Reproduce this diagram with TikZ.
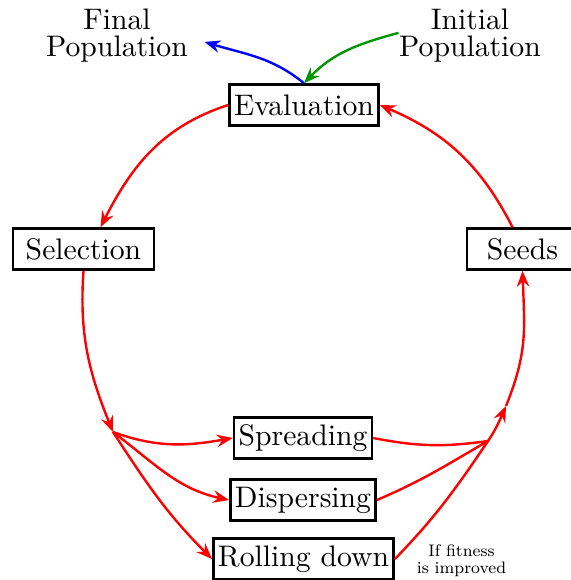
\documentclass[tikz,border=0pt]{standalone}
\usepackage{fontspec}
\setmainfont{lmroman10-regular.otf}
\newfontfamily\notefont{lmroman8-regular.otf}
\usetikzlibrary{arrows.meta}
\newcommand\mainsize{\fontsize{29.7}{27}\selectfont}
\newcommand\notesize{\notefont\fontsize{16.7}{16.5}\selectfont}
\definecolor{startgreen}{RGB}{0,150,0}
\begin{document}
\begin{tikzpicture}[x=1pt,y=1pt,
  box/.style={draw, line width=2.6pt, inner sep=4.5pt, minimum height=41pt, font=\mainsize},
  caption/.style={inner sep=0pt, align=center, font=\mainsize, anchor=north},
  note/.style={inner sep=0pt, align=center, font=\notesize, anchor=north},
  tip/.style={-{Stealth[length=16pt,width=12.5pt,inset=5.5pt]}},
  flow/.style={red, line width=2.4pt, tip},
  feed/.style={red, line width=2.4pt},
  outflow/.style={blue, line width=2.4pt, tip},
  inflow/.style={startgreen, line width=2.4pt, tip}]
  \useasboundingbox (0,0) rectangle (570,-580);

  % process boxes
  \node[box] (eval) at (304,-105) {Evaluation};
  \node[box, minimum width=141pt] (sel) at (83.5,-249) {Selection};
  \node[box, minimum width=111pt] (seeds) at (522.5,-249) {Seeds};
  \node[box] (spr) at (303,-438) {Spreading};
  \node[box] (disp) at (303,-500) {Dispersing};
  \node[box] (roll) at (303.5,-559) {Rolling down};

  % populations and the condition note
  \node[caption] (fin) at (117,-9) {Final\\Population};
  \node[caption] (init) at (470,-9) {Initial\\Population};
  \node[note] (cond) at (461.5,-545) {If fitness\\is improved};

  % branching and joining points
  \coordinate (split) at (113,-432);
  \coordinate (merge) at (488,-441);
  \coordinate (rise) at (506,-406);

  % main loop
  \draw[flow] (eval.west) to[out=198,in=63] ([xshift=17pt]sel.north);
  \draw[flow] (sel.south) to[out=-94,in=112] (split);
  \draw[flow] (split) to[out=-20,in=190] (spr.west);
  \draw[flow] (split) to[out=-37,in=168] (disp.west);
  \draw[flow] (split) to[out=-57,in=135] (roll.west);
  \draw[feed] (spr.east) to[out=-11,in=188] (merge);
  \draw[feed] (disp.east) to[out=23,in=210] (merge);
  \draw[flow] (roll.east) to[out=46,in=236] (merge) to[out=56,in=246] (rise);
  \draw[flow] (rise) to[out=68,in=-88,looseness=1.1] (seeds.south);
  \draw[flow] ([xshift=-10pt]seeds.north) to[out=117,in=-23] (eval.east);

  % entry and exit
  \draw[outflow] (eval.north) to[out=141,in=-17] ([xshift=16.5pt,yshift=-6pt]fin.east);
  \draw[inflow] ([xshift=-0.5pt,yshift=3pt]init.west) to[out=195,in=46] (eval.north);
\end{tikzpicture}
\end{document}
